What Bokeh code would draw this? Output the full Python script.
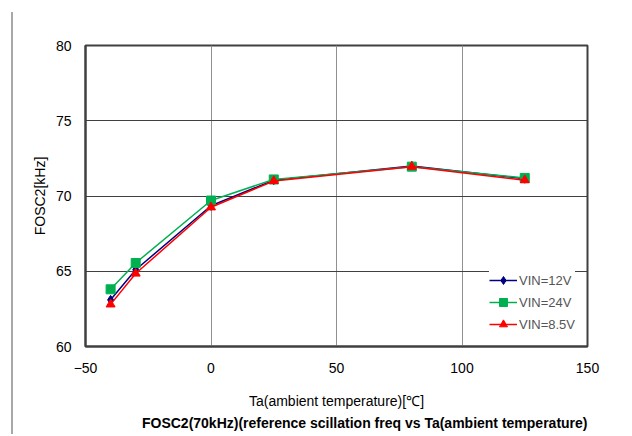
from bokeh.plotting import figure
from bokeh.models import Range1d, FixedTicker, Title, Legend
from bokeh.embed import file_html
from bokeh.resources import INLINE

ta = [-40, -30, 0, 25, 80, 125]
vin12 = [63.1, 65.1, 69.35, 71.05, 72.0, 71.15]
vin24 = [63.8, 65.55, 69.7, 71.1, 71.95, 71.2]
vin85 = [62.8, 64.85, 69.25, 71.0, 71.95, 71.05]
xticks = [-50, 0, 50, 100, 150]
yticks = [60, 65, 70, 75, 80]

FONT = "Liberation Sans"

p = figure(width=615, height=422, output_backend="svg", toolbar_location=None,
           x_range=Range1d(-50, 150), y_range=Range1d(60, 80),
           min_border_left=72, min_border_right=41, min_border_top=33, min_border_bottom=88)
p.styles = {"border-left": "2px solid #a8a8a8", "margin-left": "11px", "margin-top": "12px"}

p.outline_line_color = "#404040"
p.outline_line_width = 2

for ax in (p.xaxis[0], p.yaxis[0]):
    ax.axis_line_color = "#404040"
    ax.axis_line_width = 2
    ax.major_tick_line_color = None
    ax.minor_tick_line_color = None
    ax.major_tick_out = 0
    ax.major_tick_in = 0
    ax.major_label_text_font = FONT
    ax.major_label_text_font_size = "14px"
    ax.major_label_text_color = "#000000"
    ax.axis_label_text_font = FONT
    ax.axis_label_text_font_size = "14px"
    ax.axis_label_text_font_style = "normal"
    ax.axis_label_text_color = "#000000"

p.xaxis.ticker = FixedTicker(ticks=xticks)
p.yaxis.ticker = FixedTicker(ticks=yticks)
p.xaxis.major_label_overrides = {-50: "\u221250"}
p.xaxis.major_label_standoff = 16
p.yaxis.major_label_standoff = 14
p.xaxis.axis_label = "Ta(ambient temperature)[\u2103]"
p.xaxis.axis_label_standoff = 17
p.yaxis.axis_label = "FOSC2[kHz]"
p.yaxis.axis_label_standoff = 5

p.xgrid.grid_line_color = "#909090"
p.xgrid.grid_line_width = 1
p.ygrid.grid_line_color = "#404040"
p.ygrid.grid_line_width = 1

r1l = p.line(ta, vin12, line_color="#000080", line_width=1.5)
r1m = p.scatter(ta, vin12, marker="diamond", size=9, fill_color="#000080", line_color="#000080")
r2l = p.line(ta, vin24, line_color="#00b050", line_width=1.5)
r2m = p.scatter(ta, vin24, marker="square", size=9, fill_color="#00b050", line_color="#00b050")
r3l = p.line(ta, vin85, line_color="#ff0000", line_width=1.5)
r3m = p.scatter(ta, vin85, marker="triangle", size=9, fill_color="#ff0000", line_color="#ff0000")

legend = Legend(items=[("VIN=12V", [r1l, r1m]), ("VIN=24V", [r2l, r2m]), ("VIN=8.5V", [r3l, r3m])],
                location="bottom_right")
legend.border_line_color = None
legend.background_fill_color = "white"
legend.background_fill_alpha = 1
legend.label_text_font = FONT
legend.label_text_font_size = "13px"
legend.label_text_color = "#555555"
legend.glyph_width = 28
legend.label_standoff = 2
legend.spacing = 2
legend.padding = 6
legend.margin = 12
p.add_layout(legend)

title = Title(text="FOSC2(70kHz)(reference scillation freq vs Ta(ambient temperature)",
              align="right", text_font=FONT, text_font_size="14px", text_font_style="bold",
              text_color="#000000", standoff=2, offset=0)
p.add_layout(title, "below")

open("out.html", "w").write(file_html(p, INLINE))
